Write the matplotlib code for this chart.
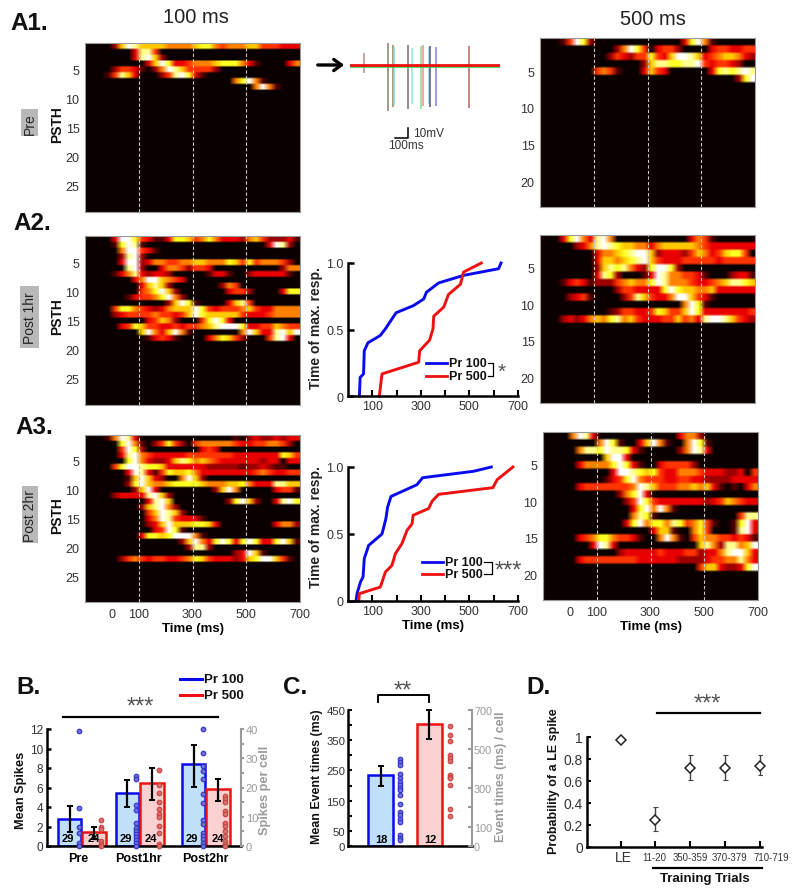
import matplotlib
matplotlib.use('Agg')
import matplotlib.pyplot as plt
import numpy as np

plt.rcParams['font.family'] = ['Liberation Sans', 'DejaVu Sans']

W, H = 800, 895
fig = plt.figure(figsize=(W / 100, H / 100), dpi=100)

# heat rows: "start_bin:digits", 25 ms bins from -100 ms, 0-9 = colour level
pre_100 = ["4:2698666655556775455566444333", "7:3884", "7:389620",
           "9:36973345556777531 30:35", "4:24431 10:25986444420", "3:148630 11:24897310",
           "22:57951", "25:5951"]
post1_100 = ["4:3997431137764575333256422234 30:31", "4:17981 27:3982", "5:599431", "5:28920",
             "5:39923554455665557647455 27:5542", "6:892 11:35542443 29:255",
             "4:1358 8:32332 18:1331 24:2333331", "7:35996543 ", "8:36862 20:254",
             "8:457962 21:3442 29:377", "6:134457952", "12:26971 21:3684",
             "4:4775432356669743444564335555", "4:2344445443469766666433345555",
             "9:34652 17:47973", "5:347644334344568999733446544", "8:69536951 23:59633896 31:9",
             "9:13431 18:357642 27:4893"]
post2_100 = ["3:15983 22:1 24:23223233", "5:7951 10:24742 16:455555433445 28:542", "5:4972 17:343",
             "5:389543333344444443333333 29:764", "6:79532236875654333333233 30:33",
             "4:479987763333332222212232 28:11", "6:39831476675333333334543344",
             "6:169632 14:5962", "6:2796556777765556675333 28:8866", "7:2693 19:2695 28:3441",
             "4:233338962", "9:3896 21:27962 28:3897", "8:268952", "9:469862",
             "9:359843331", "9:23696667763 28:3552", "10:34971", "8:3776799951",
             "14:26953797 22:3797 26:33 28:7961", "15:2882", "22:23961",
             "5:24543443345764333236799641"]
pre_500 = ["3:14972 21:37951", "11:25974 17:3442 25:3443344", "10:2432447436998634566532",
           "15:26887788943443 29:2", "8:4541 15:3643 25:3787898", "29:279"]
post1_500 = ["3:37953895 22:3541", "5:2358987665535666665433333333",
             "8:35567899623332465346774", "8:366567896433344444344444",
             "8:26878532 16:79972", "8:3872 15:1398554431 28:2331",
             "3:13431222456557985554334568876", "11:2443333797665563333333",
             "4:2341 12:24864335996431", "21:5971",
             "10:1244334764469733333334", "3:232356578564333446453899864 30:32"]
post2_500 = ["4:5983 20:3552", "8:5971 14:36951 21:5971", "5:58879887 13:31 20:25983",
             "9:6993", "5:3555579731 17:344442", "10:39987674335554333223 31:4",
             "9:134795444334433222233334", "5:344444445986444556566 25:31 28:1 30:35",
             "11:25793", "12:24974333333323465433", "13:3795951", "13:5871 29:488",
             "12:3795775874574 25:1 28:1793", "16:3661 22:574 28:1893",
             "5:3457754431 17:5951 22:4655443431", "7:3983 23:685288569",
             "11:233333433344233589963", "5:34444444433333322223445568 29:853",
             "23:466322379"]

# trace
trace_ends = [0, 1150]
spike_times = [110, 292, 326, 341, 446, 479, 544, 559, 603, 615, 662, 915]
spike_up = [12, 22, 20, 18, 20, 17, 19, 20, 18, 19, 18, 19]
spike_down = [-8, -46, -42, -40, -44, -39, -44, -41, -39, -42, -41, -43]
spike_cols = ['#b89090', '#8a8070', '#a08050', '#70e0d0', '#707070', '#90e8e0', '#80e090', '#f09090',
              '#90e0e0', '#505080', '#8080e0', '#c06060']

# latency curves
a2_blue_x = [47, 50, 64, 67, 82, 133, 154, 198, 270, 312, 323, 373, 476, 620, 630]
a2_blue_y = [0, .14, .166, .34, .40, .455, .505, .626, .68, .73, .78, .85, .907, .957, 1.0]
a2_red_x = [129, 140, 291, 295, 336, 350, 353, 394, 414, 463, 476, 549]
a2_red_y = [0, .166, .254, .34, .42, .505, .60, .668, .764, .84, .932, 1.0]
a3_blue_x = [33, 37, 51, 62, 67, 85, 140, 156, 163, 177, 284, 307, 517, 590]
a3_blue_y = [0, .055, .14, .18, .316, .415, .50, .614, .70, .78, .868, .92, .968, 1.0]
a3_red_x = [44, 47, 133, 154, 181, 195, 222, 243, 264, 268, 332, 346, 373, 597, 614, 679]
a3_red_y = [0, .055, .104, .216, .266, .353, .428, .527, .577, .64, .69, .744, .796, .846, .905, 1.0]

# panel B
groups = ['Pre', 'Post1hr', 'Post2hr']
b_blue = [2.75, 5.4, 8.45]
b_red = [1.4, 6.45, 5.8]
b_blue_hi = [4.1, 6.8, 10.4]
b_blue_lo = [1.4, 3.95, 6.1]
b_red_hi = [2.0, 8.05, 6.9]
b_red_lo = [0.7, 4.7, 4.65]
b_n_blue = [29, 29, 29]
b_n_red = [24, 24, 24]
b_dots_blue = [[39.2, 12.9, 6.5, 4.6, 0.9, 0],
               [24, 23, 14, 12.2, 8, 6, 5, 4, 3, 2, 1, 0],
               [40, 31.8, 27.2, 25.7, 22.9, 17.7, 14.6, 8.8, 7.4, 4.6, 3.4, 2.3, 1.1, 0]]
b_dots_red = [[8.8, 6.5, 5.7, 1.7, 0.6, 0],
              [26, 21, 18, 15, 12.8, 10.9, 10, 6.9, 4.3, 0.8, 0],
              [17, 16, 15, 12, 10.9, 8, 6.9, 5, 3.4, 1.7, 0.6, 0]]

# panel C
c_vals = [234, 404]
c_hi = [264, 450]
c_lo = [200, 354]
c_n = [18, 12]
c_dots_blue = [449, 432, 415, 372, 349, 329, 312, 298, 288, 264, 217, 175, 158, 140, 123, 55, 43, 29]
c_dots_red = [616, 572, 543, 466, 452, 440, 366, 355, 349, 315, 192, 152]

# panel D
d_labels = ['LE', '11-20', '350-359', '370-379', '710-719']
d_vals = [.97, .25, .715, .715, .735]
d_hi = [np.nan, .36, .837, .834, .837]
d_lo = [np.nan, .15, .608, .611, .654]

BLUE = '#0a0aee'
RED = '#ee1111'
LBLUE = '#bfe0f8'
LRED = '#fbd0d0'
GRAY = '#9a9a9a'
TXT = '#333333'


def ax_px(x0, y0, x1, y1):
    return fig.add_axes([x0 / W, 1 - y1 / H, (x1 - x0) / W, (y1 - y0) / H])


def rows_to_matrix(rows, nrows):
    m = np.zeros((nrows, 32))
    for r, row in enumerate(rows):
        for part in row.split():
            start, digits = part.split(':')
            for k, d in enumerate(digits):
                if int(start) + k < 32:
                    m[r, int(start) + k] = int(d) / 9.0
    return m


def heat(rows, nrows, box, yticks, xlabels=False):
    ax = ax_px(*box)
    m = np.repeat(rows_to_matrix(rows, nrows), 3, axis=0)
    ax.imshow(m, cmap='hot', vmin=0, vmax=1, aspect='auto', interpolation='bilinear',
              extent=[-100, 700, nrows + 0.5, 0.5])
    for t in [100, 300, 500]:
        ax.axvline(t, color='#c8c8c0', lw=0.8, ls=(0, (3, 2)))
    ax.set_yticks(yticks)
    ax.tick_params(axis='y', length=0, pad=4, labelsize=9, labelcolor=TXT)
    for s in ax.spines.values():
        s.set_color('#999999')
        s.set_linewidth(0.8)
    if xlabels:
        ax.set_xticks([0, 100, 300, 500, 700])
        ax.tick_params(axis='x', length=0, pad=4, labelsize=9, labelcolor=TXT)
        ax.set_xlabel('Time (ms)', fontsize=9.5, fontweight='bold', labelpad=2)
    else:
        ax.set_xticks([])
    return ax


ticks29 = [5, 10, 15, 20, 25]
ticks23 = [5, 10, 15, 20]
heat(pre_100, 29, (85, 44, 300, 213), ticks29)
heat(post1_100, 29, (85, 237, 300, 406), ticks29)
heat(post2_100, 29, (85, 436, 300, 603), ticks29, True)
heat(pre_500, 23, (540, 39, 755, 208), ticks23)
heat(post1_500, 23, (540, 236, 755, 404), ticks23)
heat(post2_500, 23, (543, 433, 758, 601), ticks23, True)


def latency(box, bx, by, rx, ry, xlabel=False):
    ax = ax_px(*box)
    ax.plot(bx, by, color=BLUE, lw=2.1, solid_joinstyle='round', clip_on=False)
    ax.plot(rx, ry, color=RED, lw=2.1, solid_joinstyle='round', clip_on=False)
    ax.set_xlim(0, 700)
    ax.set_ylim(0, 1)
    ax.spines['top'].set_visible(False)
    ax.spines['right'].set_visible(False)
    ax.spines['left'].set_linewidth(1.8)
    ax.spines['bottom'].set_linewidth(1.8)
    ax.set_xticks(range(100, 800, 100))
    ax.set_xticklabels(['100', '', '300', '', '500', '', '700'])
    ax.set_yticks([0, 0.5, 1.0])
    ax.set_yticklabels(['0', '0.5', '1.0'])
    ax.tick_params(axis='x', direction='in', length=4, width=1.5, labelsize=9, labelcolor=TXT, pad=3)
    ax.tick_params(axis='y', direction='in', length=4, width=1.8, labelsize=9, labelcolor=TXT, pad=3)
    ax.patch.set_alpha(0)
    if xlabel:
        ax.set_xlabel('Time (ms)', fontsize=9.5, fontweight='bold', labelpad=1)
    return ax


latency((348, 264, 518, 397), a2_blue_x, a2_blue_y, a2_red_x, a2_red_y)
latency((348, 468, 518, 602), a3_blue_x, a3_blue_y, a3_red_x, a3_red_y, True)

# spike trace
ax_tr = ax_px(350, 40, 500, 116)
ax_tr.set_xlim(0, 1150)
ax_tr.set_ylim(-50, 26)
ax_tr.axis('off')
ax_tr.vlines(spike_times, spike_down, spike_up, colors=spike_cols, lw=1.1)
ax_tr.plot(trace_ends, [-1, -1], color='#30d040', lw=1.8)
ax_tr.plot(trace_ends, [0, 0], color=RED, lw=2.0)

# panel B
ax_b = ax_px(47, 730, 241, 847)
xb = np.array([1.43, 3.81, 6.53])
ax_b.bar(xb - 0.5, b_blue, 0.97, color=LBLUE, edgecolor=BLUE, lw=1.8)
ax_b.bar(xb + 0.5, b_red, 0.97, color=LRED, edgecolor=RED, lw=1.8)
for i in range(3):
    ax_b.errorbar(xb[i] - 0.5, b_blue[i], yerr=[[b_blue[i] - b_blue_lo[i]], [b_blue_hi[i] - b_blue[i]]],
                  color='k', lw=1.6, capsize=2.5, capthick=1.4)
    ax_b.errorbar(xb[i] + 0.5, b_red[i], yerr=[[b_red[i] - b_red_lo[i]], [b_red_hi[i] - b_red[i]]],
                  color='k', lw=1.6, capsize=2.5, capthick=1.4)
    ax_b.text(xb[i] - 0.56, 0.8, str(b_n_blue[i]), ha='center', va='center', fontsize=8, fontweight='bold')
    ax_b.text(xb[i] + 0.48, 0.8, str(b_n_red[i]), ha='center', va='center', fontsize=8, fontweight='bold')
ax_b.set_xlim(0, 7.98)
ax_b.set_ylim(0, 12)
ax_b.set_xticks([1.28, 3.75, 6.5])
ax_b.set_xticklabels(groups, fontsize=9, fontweight='bold')
ax_b.set_yticks(range(0, 13, 2))
ax_b.tick_params(axis='x', length=0, pad=4)
ax_b.tick_params(axis='y', direction='in', length=3, width=1.8, labelsize=8.5, labelcolor=TXT, pad=3)
ax_b.spines['top'].set_visible(False)
ax_b.spines['left'].set_linewidth(1.8)
ax_b.spines['bottom'].set_linewidth(1.8)
ax_b.spines['right'].set_visible(False)
ax_b2 = ax_b.twinx()
ax_b2.set_ylim(0, 40)
for i in range(3):
    ax_b2.plot([xb[i] - 0.13] * len(b_dots_blue[i]), b_dots_blue[i], 'o', ms=3.3, mfc='#7070d8', mec='#3030cc',
               mew=0.8, clip_on=False)
    ax_b2.plot([xb[i] + 0.81] * len(b_dots_red[i]), b_dots_red[i], 'o', ms=3.3, mfc='#d87070', mec='#cc4040',
               mew=0.8, clip_on=False)
ax_b2.set_yticks(range(0, 41, 5))
ax_b2.set_yticklabels(['0', '', '10', '', '20', '', '30', '', '40'])
ax_b2.tick_params(axis='y', colors=GRAY, length=2.5, width=1.5, labelsize=8, pad=1)
for s in ['top', 'left', 'bottom']:
    ax_b2.spines[s].set_visible(False)
ax_b2.spines['right'].set_color(GRAY)
ax_b2.spines['right'].set_linewidth(1.5)

# panel C
ax_c = ax_px(348, 711, 472, 847)
xc = np.array([1.27, 3.18])
ax_c.bar(xc, c_vals, 0.97, color=[LBLUE, LRED], edgecolor=[BLUE, RED], lw=1.8)
for i in range(2):
    ax_c.errorbar(xc[i], c_vals[i], yerr=[[c_vals[i] - c_lo[i]], [c_hi[i] - c_vals[i]]], color='k', lw=1.6,
                  capsize=2.5, capthick=1.4, clip_on=False)
    ax_c.text(xc[i] + 0.05, 24, str(c_n[i]), ha='center', va='center', fontsize=8, fontweight='bold')
ax_c.set_xlim(0, 4.84)
ax_c.set_ylim(0, 450)
ax_c.set_xticks([])
ax_c.set_yticks(range(0, 451, 50))
ax_c.set_yticklabels(['0', '50', '', '150', '', '250', '', '350', '', '450'])
ax_c.tick_params(axis='y', direction='in', length=3, width=1.5, labelsize=8.2, labelcolor=TXT, pad=2)
ax_c.spines['top'].set_visible(False)
ax_c.spines['right'].set_visible(False)
ax_c.spines['left'].set_linewidth(1.8)
ax_c.spines['bottom'].set_linewidth(1.8)
ax_c2 = ax_c.twinx()
ax_c2.set_ylim(0, 700)
ax_c2.plot([2.02] * len(c_dots_blue), c_dots_blue, 'o', ms=3.3, mfc='#7070d8', mec='#3030cc', mew=0.8)
ax_c2.plot([4.0] * len(c_dots_red), c_dots_red, 'o', ms=3.3, mfc='#d87070', mec='#cc4040', mew=0.8)
ax_c2.set_yticks(range(0, 701, 100))
ax_c2.set_yticklabels(['0', '100', '', '300', '', '500', '', '700'])
ax_c2.tick_params(axis='y', colors=GRAY, direction='in', length=3, width=1.5, labelsize=7.8, pad=1.5)
for s in ['top', 'left', 'bottom']:
    ax_c2.spines[s].set_visible(False)
ax_c2.spines['right'].set_color(GRAY)
ax_c2.spines['right'].set_linewidth(1.5)

# panel D
ax_d = ax_px(587, 738, 762, 848)
xd = np.arange(len(d_vals))
for i in xd[1:]:
    ax_d.errorbar(i, d_vals[i], yerr=[[d_vals[i] - d_lo[i]], [d_hi[i] - d_vals[i]]], color='#444444', lw=1,
                  capsize=1.8, capthick=0.8, zorder=2)
ax_d.plot(xd, d_vals, 'D', ms=5, mfc='w', mec='#222222', mew=1.1, ls='none', zorder=3, clip_on=False)
ax_d.set_xlim(-0.96, 4.05)
ax_d.set_ylim(0, 1)
ax_d.set_xticks(xd)
ax_d.set_xticklabels([])
ax_d.set_yticks([0, .2, .4, .6, .8, 1])
ax_d.set_yticklabels(['0', '0.2', '0.4', '0.6', '0.8', '1'])
ax_d.tick_params(axis='x', direction='in', length=4, width=1.5)
ax_d.tick_params(axis='y', direction='in', length=3, width=1.5, labelsize=10, labelcolor=TXT, pad=3)
ax_d.spines['top'].set_visible(False)
ax_d.spines['right'].set_visible(False)
ax_d.spines['left'].set_linewidth(1.8)
ax_d.spines['bottom'].set_linewidth(1.8)
label_x = [0.07, 0.98, 2.0, 3.12, 4.33]
for lx, lab in zip(label_x, d_labels):
    fs = 10 if lab == 'LE' else 6.9
    ax_d.text(lx, -0.095, lab, ha='center', va='center', fontsize=fs, color=TXT, clip_on=False)

# overlay in pixels for annotations
ov = fig.add_axes([0, 0, 1, 1], zorder=10)
ov.set_xlim(0, W)
ov.set_ylim(H, 0)
ov.axis('off')
ov.patch.set_alpha(0)


def label(x, y, s, **kw):
    kw.setdefault('ha', 'center')
    kw.setdefault('va', 'center')
    ov.text(x, y, s, **kw)


for x, y, s in [(10, 23, 'A1.'), (13, 223, 'A2.'), (15, 427, 'A3.'), (16, 688, 'B.'), (283, 688, 'C.'), (526, 688, 'D.')]:
    label(x, y, s, ha='left', fontsize=17.5, fontweight='bold', color='#111111')
label(196, 17, '100 ms', fontsize=14.5, color='#222222')
label(653, 19, '500 ms', fontsize=14.5, color='#222222')

for x, y, s, (bx0, by0, bx1, by1) in [(30, 124, 'Pre', (21, 110, 38, 137)), (30, 318, 'Post 1hr', (20, 287, 39, 349)),
                                      (30, 516, 'Post 2hr', (22, 487, 38, 544))]:
    ov.fill_between([bx0, bx1], by0, by1, color='#b8b8b8', lw=0)
    label(x, y, s, rotation=90, fontsize=10, color='#222222')
for y in [125, 317, 516]:
    label(57, y, 'PSTH', rotation=90, fontsize=10, fontweight='bold', color='#111111')
for y in [328, 527]:
    label(316, y, 'Time of max. resp.', rotation=90, fontsize=10, fontweight='bold', color='#222222')

# trace arrow and scale bar
ov.annotate('', xy=(347, 66), xytext=(315, 66), arrowprops=dict(arrowstyle='->,head_width=0.4,head_length=0.55',
                                                                lw=2.4, color='k'))
ov.plot([395, 408, 408], [138.7, 138.7, 129], color='k', lw=1.1)
label(413, 134, '10mV', ha='left', fontsize=8.5, color=TXT)
label(388, 146, '100ms', ha='left', fontsize=8.5, color=TXT)

# latency legends
for x0, x1, ytop, ybot, tx, bx0, bx1, star, sx, sy, fs in [(426, 447, 364, 377, 449, 488, 493, '*', 502, 372, 15),
                                                           (422, 443, 563, 575, 445, 484, 492, '***', 508, 572, 17)]:
    ov.plot([x0, x1], [ytop, ytop], color=BLUE, lw=2)
    ov.plot([x0, x1], [ybot, ybot], color=RED, lw=2)
    label(tx, ytop, 'Pr 100', ha='left', fontsize=9, fontweight='bold', color='#111111')
    label(tx, ybot, 'Pr 500', ha='left', fontsize=9, fontweight='bold', color='#111111')
    ov.plot([bx0, bx1, bx1, bx0], [ytop, ytop, ybot, ybot], color='k', lw=0.9)
    label(sx, sy, star, fontsize=fs, color='#555555')

# panel B legend and significance
ov.plot([180, 202], [680, 680], color=BLUE, lw=2.2)
ov.plot([180, 202], [696, 696], color=RED, lw=2.2)
label(204, 680, 'Pr 100', ha='left', fontsize=9.5, fontweight='bold', color='#111111')
label(204, 696, 'Pr 500', ha='left', fontsize=9.5, fontweight='bold', color='#111111')
ov.plot([63, 218], [718, 718], color='k', lw=1.6)
label(140, 708, '***', fontsize=17, color='#555555')
label(21, 790, 'Mean Spikes', rotation=90, fontsize=9.2, fontweight='bold', color='#111111')
label(265, 790, 'Spikes per cell', rotation=90, fontsize=9.2, fontweight='bold', color=GRAY)

# panel C bracket
ov.plot([378, 378, 429, 429], [703, 696, 696, 703], color='k', lw=1.4)
label(403, 692, '**', fontsize=17, color='#555555')
label(317, 777, 'Mean Event times (ms)', rotation=90, fontsize=8.9, fontweight='bold', color='#111111')
label(501, 777, 'Event times (ms) / cell', rotation=90, fontsize=8.9, fontweight='bold', color=GRAY)

# panel D lines
ov.plot([657, 760], [714, 714], color='k', lw=1.6)
label(707, 705, '***', fontsize=17, color='#555555')
ov.plot([653, 762], [869, 869], color='k', lw=1.6)
label(705, 879, 'Training Trials', fontsize=9.5, fontweight='bold', color='#111111')
label(554, 781, 'Probability of a LE spike', rotation=90, fontsize=9, fontweight='bold', color='#111111')

fig.savefig('out.png', dpi=100)
